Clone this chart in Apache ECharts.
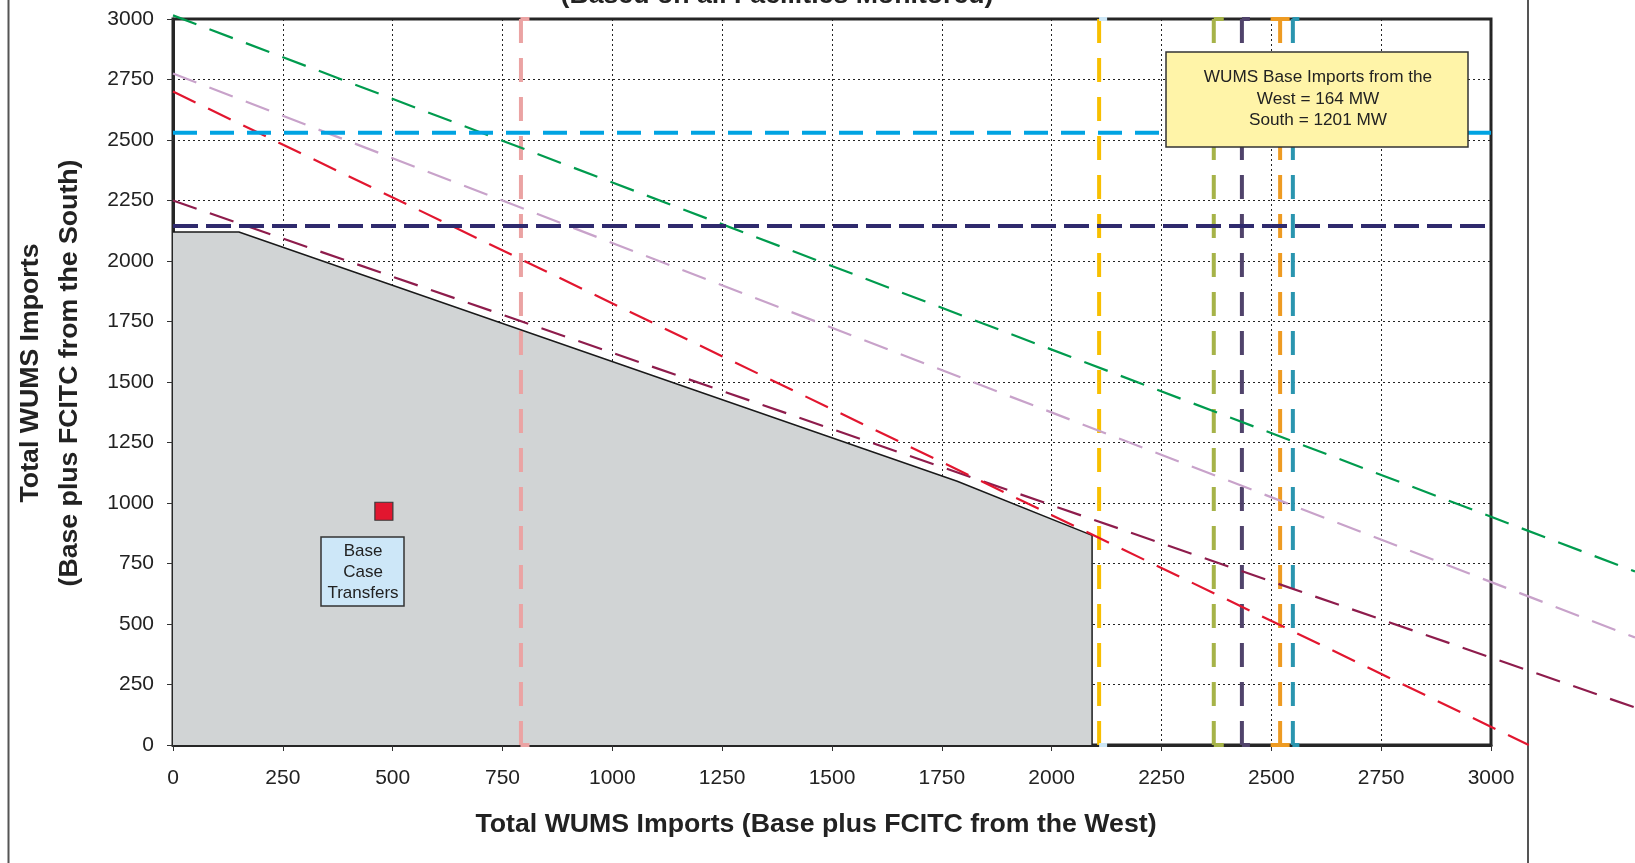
<!DOCTYPE html>
<html>
<head>
<meta charset="utf-8">
<script src="https://cdn.jsdelivr.net/npm/echarts@6/dist/echarts.min.js"></script>
<style>
html,body{margin:0;padding:0;background:#fff;}
#chart{width:1635px;height:863px;}
</style>
</head>
<body>
<div id="chart"></div>
<script>
// ---- data ----
const axisMin = 0, axisMax = 3000, axisStep = 250;
const extMax = 3330;                          // x value at the right edge of the picture
const boundaryX = [0, 150, 1785, 2092, 2092];
const boundaryY = [2120, 2120, 1090, 866, 0];
const greenLine  = [[0, 3015], [3330, 717]];
const lilacLine  = [[0, 2775], [3330, 444]];
const redLine    = [[0, 2700], [3088, 0]];
const maroonLine = [[0, 2250], [3330, 155]];
const southLimits = [2530, 2145];            // horizontal limits (MW)
const westLimits  = [792, 2108, 2369, 2433, 2520, 2549]; // vertical limits (MW)
const baseCase = [480, 966];
const boxText = ['WUMS Base Imports from the', 'West = 164 MW', 'South = 1201 MW'];
const baseBoxText = ['Base', 'Case', 'Transfers'];

// ---- styles ----
const FONT = '"Liberation Sans", Arial, Helvetica, sans-serif';
const westColors = ['#EBA3A3', '#F8BF00', '#A6B348', '#50436B', '#EE9B22', '#2A95AF'];
const westMarkColors = ['#EBA3A3', '#CCE6F5', '#A6B348', '#50436B', '#EE9B22', '#2A95AF'];
const westMarkSize = [[9, 4], [8, 4], [10, 4], [8, 4], [19, 4], [7, 4]];
const westMarkOffset = [[4, 0], [4, 0], [5, 0], [4, 0], [0, 0], [3, 0]];
const southColors = ['#00A3E2', '#2F2A6D'];
const southDash = [[24, 13], [25, 8]];

const GL = 173, GT = 19, GB = 118, GW = 1318;

function vLine(i) {
  const x = westLimits[i];
  return {
    type: 'line',
    data: [[x, axisMin], [x, axisMax]],
    symbol: 'rect',
    symbolSize: westMarkSize[i],
    symbolOffset: westMarkOffset[i],
    itemStyle: { color: westMarkColors[i] },
    lineStyle: { color: westColors[i], width: 4, type: [24, 15] },
    silent: true, animation: false, z: 3
  };
}
function slope(data, color) {
  return {
    type: 'line', data: data, symbol: 'none', clip: false,
    xAxisIndex: 1, yAxisIndex: 1,
    lineStyle: { color: color, width: 2.2, type: [25, 14] },
    silent: true, animation: false, z: 4
  };
}
function hLine(i) {
  const y = southLimits[i];
  return {
    type: 'line', data: [[axisMin, y], [axisMax, y]], symbol: 'none',
    lineStyle: { color: southColors[i], width: 4, type: southDash[i] },
    silent: true, animation: false, z: 4
  };
}

const series = [];
series.push(vLine(0));
series.push({
  type: 'line',
  data: boundaryX.map((x, i) => [x, boundaryY[i]]),
  symbol: 'none',
  lineStyle: { color: '#1a1a1a', width: 1.5 },
  areaStyle: { color: '#D1D4D5', opacity: 1 },
  silent: true, animation: false, z: 3
});
series.push(slope(greenLine, '#009B4E'));
series.push(slope(lilacLine, '#C8A2CA'));
series.push(slope(maroonLine, '#8E1C4C'));
series.push(slope(redLine, '#E2162F'));
series.push(hLine(0));
series.push(hLine(1));
for (let i = 1; i < westLimits.length; i++) series.push(vLine(i));
series.push({
  type: 'scatter', data: [baseCase], symbol: 'rect', symbolSize: 18,
  itemStyle: { color: '#E2162F', borderColor: '#3a3a3a', borderWidth: 1.2, opacity: 1 },
  silent: true, animation: false, z: 6
});

const axisCommon = {
  type: 'value', min: axisMin, max: axisMax, interval: axisStep,
  axisLine: { show: true, onZero: false, lineStyle: { color: '#262626', width: 3 } },
  axisTick: { show: true, length: 6, lineStyle: { color: '#333', width: 1 } },
  splitLine: { show: true, lineStyle: { color: '#222', width: 1, type: [2, 3] } }
};
const hiddenAxis = { type: 'value', show: false, splitLine: { show: false } };

const option = {
  backgroundColor: '#ffffff',
  animation: false,
  grid: [
    { left: GL, width: GW, top: GT, bottom: GB, show: true,
      borderColor: '#262626', borderWidth: 3, backgroundColor: 'rgba(0,0,0,0)' },
    { left: GL, width: GW * extMax / axisMax, top: GT, bottom: GB, show: false }
  ],
  xAxis: [
    Object.assign({}, axisCommon, {
      gridIndex: 0,
      axisLabel: { fontSize: 21, color: '#222', margin: 23, fontFamily: FONT, formatter: v => String(v) }
    }),
    Object.assign({}, hiddenAxis, { gridIndex: 1, min: axisMin, max: extMax })
  ],
  yAxis: [
    Object.assign({}, axisCommon, {
      gridIndex: 0,
      axisLabel: { fontSize: 21, color: '#222', margin: 19, fontFamily: FONT, formatter: v => String(v) }
    }),
    Object.assign({}, hiddenAxis, { gridIndex: 1, min: axisMin, max: axisMax })
  ],
  series: series,
  graphic: [
    { type: 'line', shape: { x1: 8.5, y1: 0, x2: 8.5, y2: 863 }, style: { stroke: '#555', lineWidth: 2 }, z: 1 },
    { type: 'line', shape: { x1: 1528, y1: 0, x2: 1528, y2: 863 }, style: { stroke: '#555', lineWidth: 2 }, z: 1 },
    { type: 'text', x: 777, y: -4, z: 10,
      style: { text: '(Based on all Facilities Monitored)', font: 'bold 26.7px ' + FONT, fill: '#222',
               align: 'center', verticalAlign: 'middle', textAlign: 'center', textVerticalAlign: 'middle' } },
    { type: 'text', x: 50, y: 373, rotation: Math.PI / 2, z: 10,
      style: { text: 'Total WUMS Imports\n(Base plus FCITC from the South)', font: 'bold 26.7px ' + FONT,
               fill: '#222', lineHeight: 39, align: 'center', verticalAlign: 'middle',
               textAlign: 'center', textVerticalAlign: 'middle' } },
    { type: 'text', x: 816, y: 825, z: 10,
      style: { text: 'Total WUMS Imports (Base plus FCITC from the West)', font: 'bold 26.7px ' + FONT,
               fill: '#222', align: 'center', verticalAlign: 'middle', textAlign: 'center', textVerticalAlign: 'middle' } },
    { type: 'rect', shape: { x: 1166, y: 52, width: 302, height: 95 }, z: 20,
      style: { fill: '#FFF4A8', stroke: '#333', lineWidth: 1.5 } },
    { type: 'text', x: 1318, y: 99, z: 21,
      style: { text: boxText.join('\n'), font: '17.2px ' + FONT, fill: '#222', lineHeight: 21.5,
               align: 'center', verticalAlign: 'middle', textAlign: 'center', textVerticalAlign: 'middle' } },
    { type: 'rect', shape: { x: 321, y: 537, width: 83, height: 69 }, z: 20,
      style: { fill: '#CDE7F8', stroke: '#333', lineWidth: 1.5 } },
    { type: 'text', x: 363, y: 572, z: 21,
      style: { text: baseBoxText.join('\n'), font: '17px ' + FONT, fill: '#222', lineHeight: 21,
               align: 'center', verticalAlign: 'middle', textAlign: 'center', textVerticalAlign: 'middle' } }
  ]
};

const chart = echarts.init(document.getElementById('chart'), null, { renderer: 'canvas' });
chart.setOption(option);
</script>
</body>
</html>
